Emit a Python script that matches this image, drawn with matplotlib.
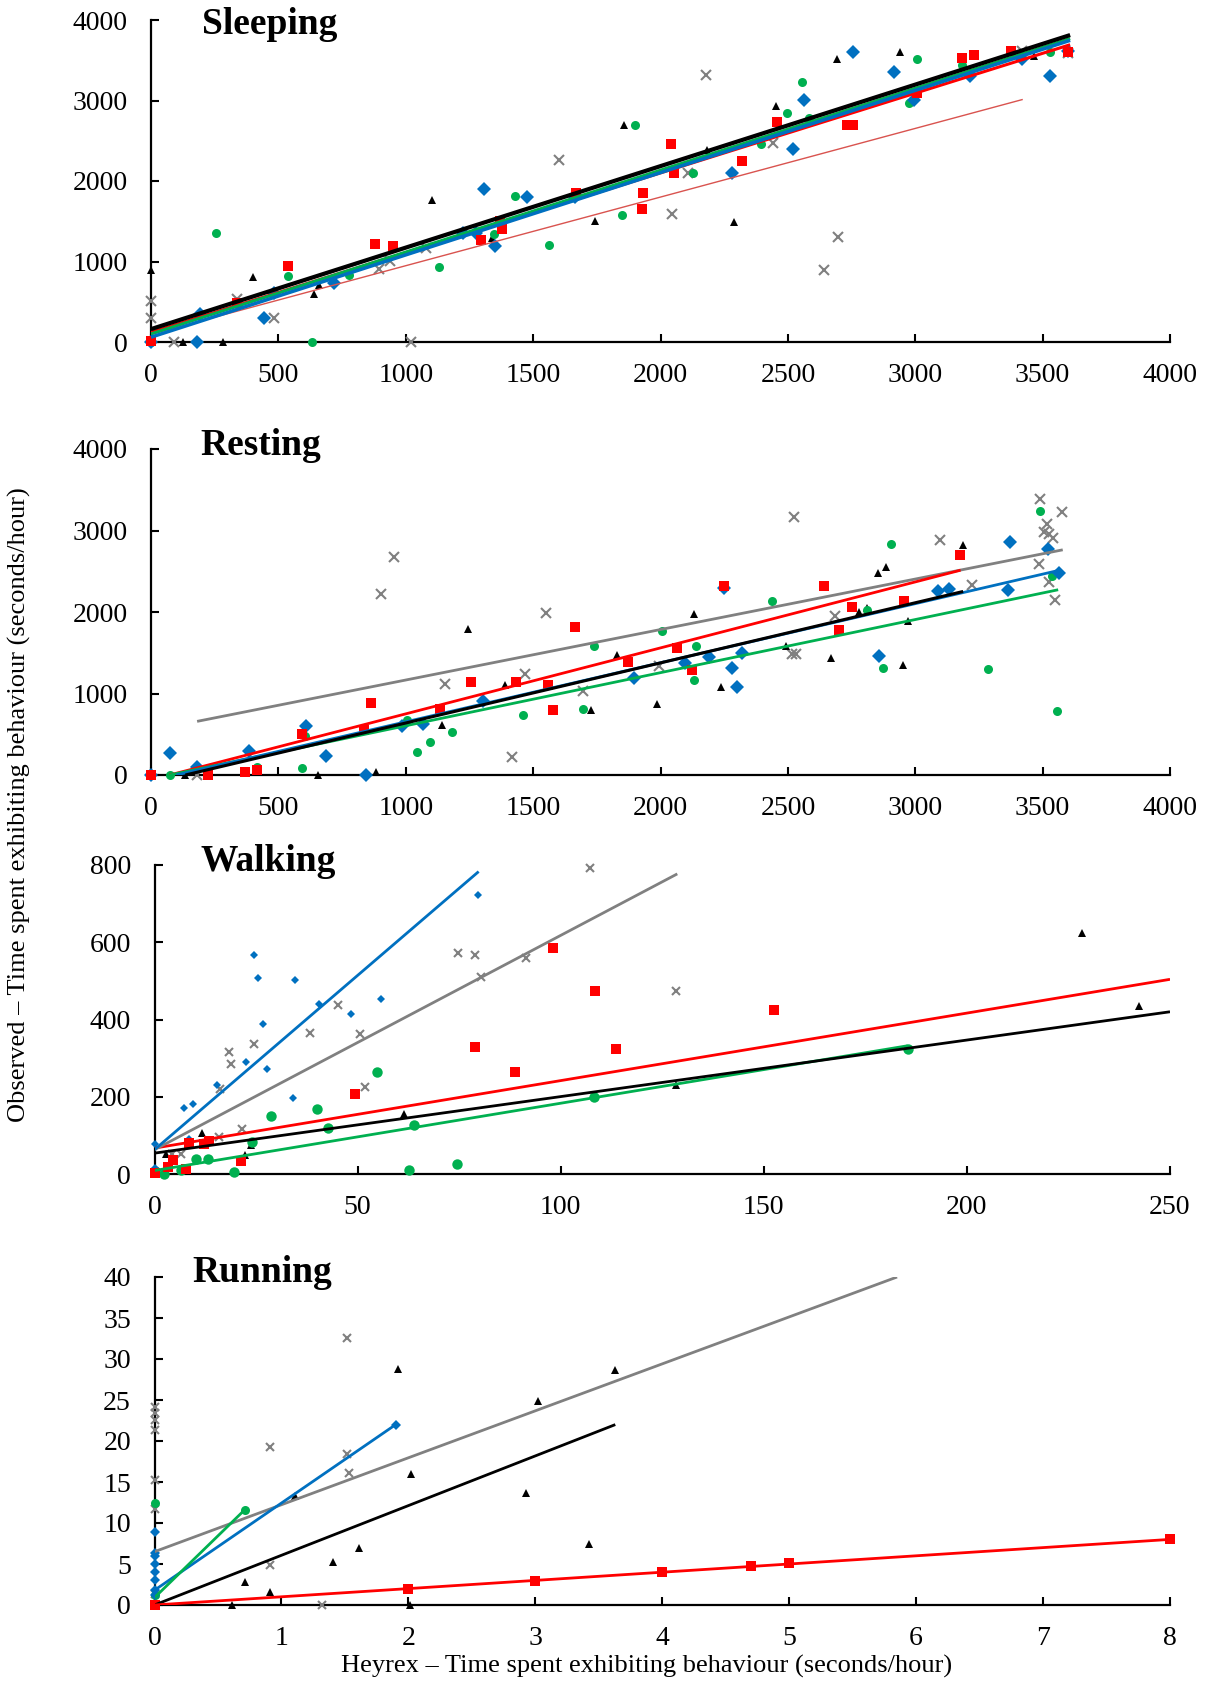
import matplotlib
matplotlib.use("Agg")
import matplotlib.pyplot as plt

plt.rcParams["font.family"] = ["Liberation Serif", "DejaVu Serif"]

# ---- Sleeping ----
sleep_blue_x = [0, 182, 193, 443, 484, 718, 1224, 1274, 1308, 1349, 1474, 1666, 2282, 2522, 2562, 2756, 2915, 2996, 3216, 3421, 3529, 3601]
sleep_blue_y = [0, 0, 344, 298, 613, 729, 1358, 1350, 1896, 1197, 1801, 1797, 2103, 2402, 3002, 3602, 3358, 3002, 3304, 3511, 3304, 3615]
sleep_red_x = [0, 338, 536, 878, 949, 1295, 1369, 1376, 1670, 1926, 1930, 2041, 2052, 2318, 2457, 2733, 2755, 3007, 3184, 3231, 3376, 3601]
sleep_red_y = [12, 480, 948, 1222, 1197, 1263, 1503, 1400, 1847, 1656, 1855, 2464, 2103, 2253, 2729, 2700, 2700, 3097, 3532, 3561, 3615, 3607]
sleep_green_x = [0, 254, 536, 632, 776, 1132, 1346, 1427, 1562, 1850, 1900, 2126, 2394, 2497, 2554, 2584, 2977, 3008, 3184, 3528]
sleep_green_y = [0, 1358, 816, 0, 828, 927, 1346, 1814, 1201, 1578, 2699, 2103, 2464, 2845, 3230, 2778, 2973, 3515, 3441, 3607]
sleep_black_x = [0, 0, 126, 281, 400, 639, 659, 1105, 1338, 1743, 1858, 2183, 2289, 2454, 2694, 2939, 3467, 3601]
sleep_black_y = [0, 894, 0, 0, 807, 596, 704, 1760, 1288, 1507, 2691, 2385, 1491, 2932, 3520, 3602, 3553, 3607]
sleep_gray_x = [0, 0, 92, 338, 484, 896, 938, 1022, 1078, 1603, 2045, 2106, 2180, 2443, 2641, 2695, 3421, 3601]
sleep_gray_y = [509, 294, 0, 530, 294, 903, 1006, 0, 1172, 2257, 1586, 2103, 3317, 2468, 894, 1300, 3615, 3594]
# trend lines: (x0, x1), (y0, y1)
sleep_fit = {
    "thin": ((0, 3422), (95, 3013)),
    "red": ((0, 3608), (120, 3693)),
    "green": ((0, 3608), (100, 3770)),
    "blue": ((0, 3608), (60, 3747)),
    "black": ((0, 3608), (160, 3813)),
}

# ---- Resting ----
rest_blue_x = [0, 73, 180, 385, 607, 686, 843, 984, 1069, 1305, 1896, 2095, 2189, 2249, 2281, 2300, 2320, 2857, 3091, 3134, 3364, 3371, 3520, 3564]
rest_blue_y = [0, 275, 103, 300, 600, 234, 0, 596, 621, 908, 1196, 1369, 1443, 2289, 1311, 1077, 1492, 1459, 2252, 2281, 2269, 2865, 2770, 2478]
rest_red_x = [0, 224, 369, 416, 592, 835, 862, 1136, 1258, 1431, 1557, 1578, 1664, 1873, 2065, 2125, 2251, 2641, 2702, 2750, 2956, 3176]
rest_red_y = [0, 0, 41, 66, 506, 547, 888, 806, 1147, 1147, 1101, 801, 1813, 1381, 1562, 1291, 2322, 2318, 1784, 2059, 2129, 2700]
rest_green_x = [73, 416, 592, 603, 1005, 1046, 1097, 1180, 1461, 1695, 1739, 2007, 2131, 2139, 2439, 2810, 2875, 2903, 3284, 3490, 3538, 3558]
rest_green_y = [0, 103, 86, 481, 678, 279, 403, 526, 740, 810, 1587, 1767, 1171, 1587, 2137, 2026, 1315, 2832, 1299, 3239, 2437, 785]
rest_black_x = [0, 135, 657, 884, 1142, 1245, 1389, 1727, 1830, 1987, 2132, 2237, 2491, 2670, 2700, 2778, 2810, 2852, 2885, 2953, 2970, 3188]
rest_black_y = [0, 0, 0, 33, 608, 1788, 1110, 793, 1471, 871, 1977, 1085, 1587, 1439, 1792, 2006, 2047, 2474, 2548, 1348, 1891, 2820]
rest_gray_x = [180, 903, 953, 1155, 1419, 1468, 1551, 1695, 1994, 2516, 2523, 2533, 2686, 3097, 3223, 3484, 3490, 3506, 3518, 3524, 3524, 3541, 3550, 3577]
rest_gray_y = [0, 2219, 2676, 1122, 218, 1245, 1993, 1036, 1340, 1480, 3165, 1480, 1952, 2889, 2326, 2593, 3391, 2980, 3074, 2959, 2363, 2902, 2150, 3226]
rest_fit = {
    "gray": ((181, 3579), (658, 2763)),
    "red": ((73, 3178), (0, 2513)),
    "green": ((73, 3561), (0, 2273)),
    "blue": ((100, 3564), (0, 2511)),
    "black": ((135, 3188), (0, 2252)),
}

# ---- Walking ----
walk_blue_x = [0, 0, 7.2, 8.5, 9.6, 15.3, 22.5, 24.4, 25.5, 26.8, 27.8, 34.2, 34.6, 40.4, 48.4, 55.8, 79.7]
walk_blue_y = [78, 16, 172, 91, 181, 231, 291, 566, 507, 388, 272, 196, 502, 440, 414, 452, 722]
walk_gray_x = [4.2, 6.5, 15.8, 16.1, 18.3, 18.8, 21.5, 24.4, 38.3, 45.1, 50.5, 51.7, 74.8, 78.8, 80.4, 91.5, 107.2, 128.5]
walk_gray_y = [53, 53, 97, 221, 317, 285, 116, 337, 366, 438, 362, 224, 573, 568, 509, 559, 791, 474]
walk_red_x = [0, 3.4, 4.6, 7.8, 8.4, 12.2, 13.3, 21.2, 49.4, 79.0, 88.8, 98.0, 108.5, 113.5, 152.5]
walk_red_y = [3, 18, 35, 13, 79, 78, 85, 34, 207, 328, 264, 584, 475, 323, 424]
walk_green_x = [0, 2.4, 6.5, 10.3, 13.2, 19.5, 23.9, 28.8, 39.9, 42.6, 54.7, 62.6, 63.8, 74.5, 108.3, 185.4]
walk_green_y = [9, 0, 11, 39, 39, 5, 84, 149, 167, 119, 263, 11, 127, 27, 199, 323]
walk_black_x = [0, 0, 2.9, 11.6, 21.2, 22.3, 23.7, 61.3, 128.5, 228.3, 242.3]
walk_black_y = [0, 7, 51, 106, 34, 49, 76, 156, 230, 623, 436]
walk_fit = {
    "green": ((0, 185.4), (9, 332)),
    "black": ((0, 250), (54, 420)),
    "red": ((0, 250), (67, 504)),
    "gray": ((0, 128.7), (63, 777)),
    "blue": ((0, 79.8), (63, 783)),
}

# ---- Running ----
run_gray_x = [0, 0, 0, 0, 0, 0, 0, 0.91, 0.91, 1.32, 1.52, 1.52, 1.53]
run_gray_y = [24.1, 23.4, 22.6, 21.3, 15.3, 11.7, 1.3, 19.3, 4.9, 0, 32.6, 18.4, 16.1]
run_black_x = [0, 0.61, 0.71, 0.91, 1.11, 1.41, 1.61, 1.92, 2.01, 2.02, 2.93, 3.02, 3.42, 3.63]
run_black_y = [0, 0, 2.8, 1.6, 13.3, 5.2, 7.0, 28.8, 0, 16.0, 13.7, 24.9, 7.4, 28.6]
run_blue_x = [0, 0, 0, 0, 0, 0, 0, 0, 0, 1.90]
run_blue_y = [0, 1.2, 1.8, 3.0, 4.0, 5.0, 6.0, 6.3, 8.9, 22.0]
run_green_x = [0, 0, 0.71]
run_green_y = [1.2, 12.4, 11.6]
run_red_x = [0, 2, 3, 4, 4.7, 5, 8]
run_red_y = [0, 2.0, 2.9, 4.0, 4.8, 5.1, 8.0]
run_fit = {
    "gray": ((0, 5.85), (6.5, 40)),
    "black": ((0, 3.63), (0, 22)),
    "blue": ((0, 1.9), (1.8, 22)),
    "green": ((0, 0.71), (0.9, 11.6)),
    "red": ((0, 8), (0, 8)),
}

colors = {"blue": "#0070C0", "red": "#FF0000", "green": "#00B050",
          "black": "black", "gray": "#808080", "thin": "#D9534F"}
markers = {"blue": "D", "red": "s", "green": "o", "black": "^", "gray": "x"}

W, H = 1206, 1682
fig = plt.figure(figsize=(W / 100, H / 100), dpi=100)


def make_axes(left, right, top, bottom):
    return fig.add_axes([left / W, 1 - bottom / H, (right - left) / W, (bottom - top) / H])


def draw_panel(ax, pts, fits, sizes, widths, xlim, ylim, xticks, yticks, title, tpos):
    for name, (xs, ys) in pts.items():
        mew = 1.5 if name == "gray" else 0
        ax.plot(xs, ys, linestyle="none", marker=markers[name], color=colors[name],
                markersize=sizes[name], markeredgewidth=mew, clip_on=False, zorder=3)
    for name, (fx, fy) in fits.items():
        ax.plot(fx, fy, color=colors[name], linewidth=widths.get(name, 2), zorder=4,
                solid_capstyle="butt")
    ax.set_xlim(*xlim)
    ax.set_ylim(*ylim)
    ax.set_xticks(xticks)
    ax.set_yticks(yticks)
    for s in ("top", "right"):
        ax.spines[s].set_visible(False)
    for s in ("left", "bottom"):
        ax.spines[s].set_linewidth(1.6)
    ax.tick_params(direction="in", length=5.5, width=1.5, labelsize=20)
    ax.tick_params(axis="y", pad=17)
    ax.tick_params(axis="x", pad=15)
    ax.text(tpos[0], tpos[1], title, transform=ax.transAxes, fontsize=27,
            fontweight="bold", ha="left", va="center")


big = {"blue": 7, "red": 7.5, "green": 6.5, "black": 6, "gray": 6.5}

ax1 = make_axes(151, 1170, 20, 342)
draw_panel(ax1,
           {"gray": (sleep_gray_x, sleep_gray_y), "black": (sleep_black_x, sleep_black_y),
            "green": (sleep_green_x, sleep_green_y), "blue": (sleep_blue_x, sleep_blue_y),
            "red": (sleep_red_x, sleep_red_y)},
           sleep_fit, big, {"thin": 1, "red": 2.2, "green": 2.2, "blue": 2.5, "black": 3},
           (0, 4000), (0, 4000), range(0, 4001, 500), range(0, 4001, 1000),
           "Sleeping", (0.05, 0.985))

ax2 = make_axes(151, 1170, 449, 775)
draw_panel(ax2,
           {"gray": (rest_gray_x, rest_gray_y), "black": (rest_black_x, rest_black_y),
            "green": (rest_green_x, rest_green_y), "blue": (rest_blue_x, rest_blue_y),
            "red": (rest_red_x, rest_red_y)},
           rest_fit, big, {"gray": 2, "red": 2, "green": 2, "blue": 2, "black": 2.2},
           (0, 4000), (0, 4000), range(0, 4001, 500), range(0, 4001, 1000),
           "Resting", (0.048, 1.011))

ax3 = make_axes(154.5, 1170, 865, 1174)
draw_panel(ax3,
           {"gray": (walk_gray_x, walk_gray_y), "black": (walk_black_x, walk_black_y),
            "green": (walk_green_x, walk_green_y), "blue": (walk_blue_x, walk_blue_y),
            "red": (walk_red_x, walk_red_y)},
           walk_fit, {"blue": 4.5, "red": 7, "green": 7.5, "black": 5.5, "gray": 6},
           {"gray": 2, "red": 2, "green": 2, "blue": 2, "black": 2},
           (0, 250), (0, 800), range(0, 251, 50), range(0, 801, 200),
           "Walking", (0.045, 1.01))

ax4 = make_axes(154.5, 1170, 1277, 1605)
draw_panel(ax4,
           {"gray": (run_gray_x, run_gray_y), "black": (run_black_x, run_black_y),
            "green": (run_green_x, run_green_y), "blue": (run_blue_x, run_blue_y),
            "red": (run_red_x, run_red_y)},
           run_fit, {"blue": 5.5, "red": 7, "green": 6.5, "black": 5.5, "gray": 6},
           {"gray": 2, "red": 2, "green": 2, "blue": 2, "black": 2},
           (0, 8), (0, 40), range(0, 9), range(0, 41, 5),
           "Running", (0.037, 1.013))

fig.text(19 / W, 1 - 805 / H, "Observed \u2013 Time spent exhibiting behaviour (seconds/hour)",
         rotation=90, fontsize=19, ha="center", va="center")
fig.text(647 / W, 1 - 1666 / H, "Heyrex \u2013 Time spent exhibiting behaviour (seconds/hour)",
         fontsize=19, ha="center", va="center")

fig.savefig("out.png", dpi=100)
